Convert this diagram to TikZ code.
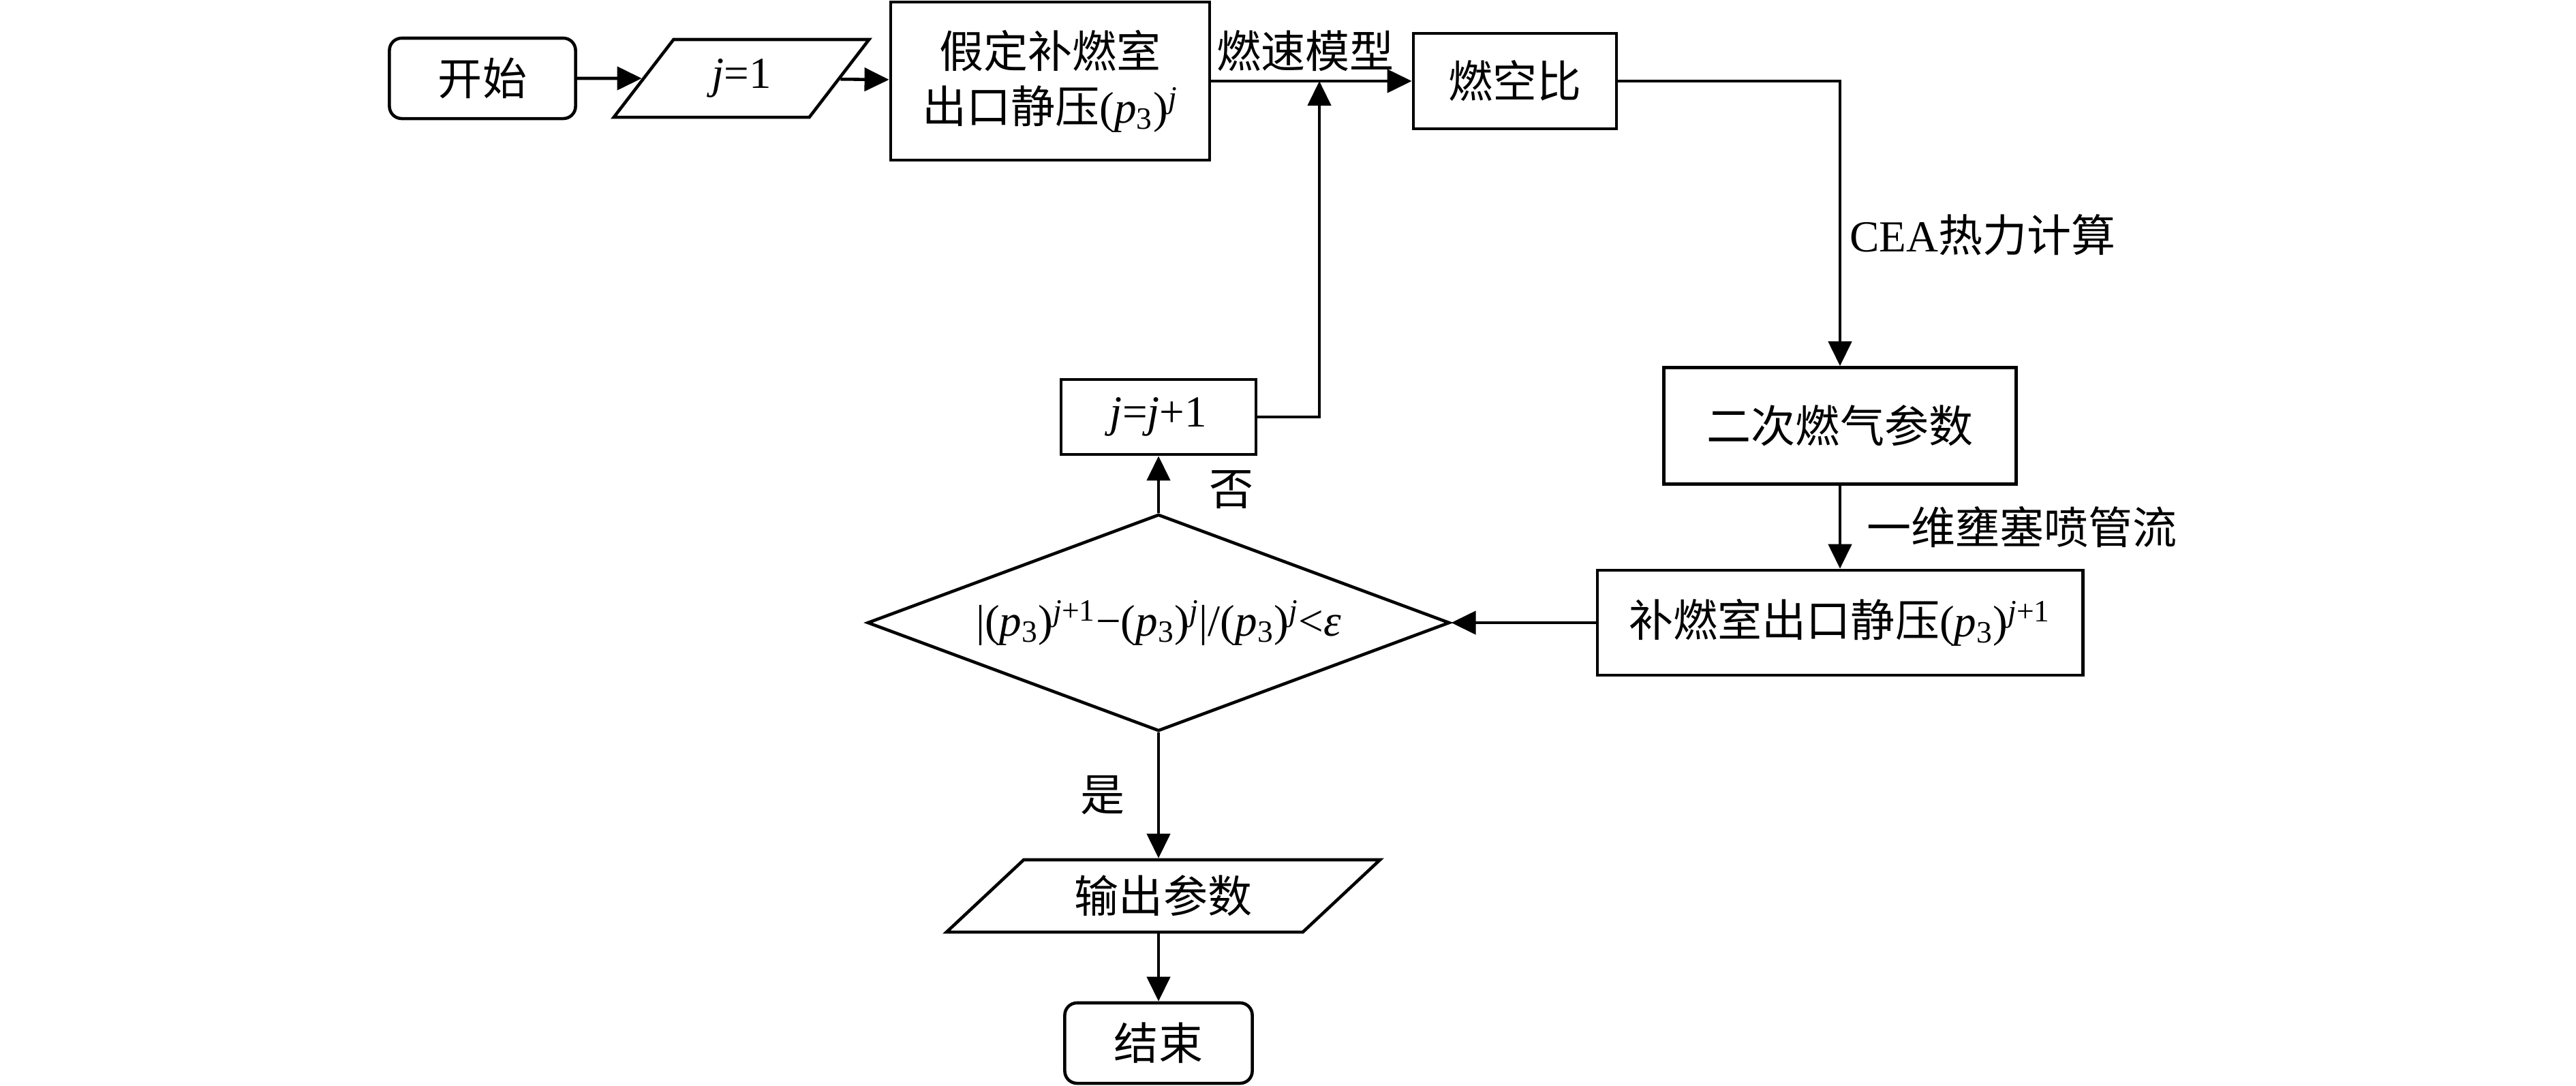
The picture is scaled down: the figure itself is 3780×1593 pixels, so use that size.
\documentclass[tikz,border=0pt]{standalone}
\usepackage{fontspec}
\setmainfont{Liberation Serif}
\newfontfamily\cjk{Noto Sans CJK SC}
\usetikzlibrary{arrows.meta,shapes.geometric}
\newcommand{\pexit}[1]{{\rmfamily(\textit{p}\textsubscript{3})\textsuperscript{#1}}}

\begin{document}
\begin{tikzpicture}[x=0.01cm, y=-0.01cm,
    every node/.style={align=center, font=\cjk\fontsize{18.5}{23}\selectfont},
    box/.style={draw, line width=1.3pt, inner sep=0pt},
    arr/.style={-{Triangle[length=0.36cm, width=0.34cm]}, line width=1.3pt}]
    \useasboundingbox (0,0) rectangle (3780,1593);

    % top row
    \node[box, rounded corners=0.18cm, minimum width=2.73cm, minimum height=1.18cm] (start) at (708,115) {开始};
    \node[box, trapezium, trapezium stretches=true, trapezium left angle=56, trapezium right angle=124, minimum width=3.75cm, minimum height=1.14cm] (init) at (1088,115) {{\rmfamily\textit{j}=1}};
    \node[box, minimum width=4.68cm, minimum height=2.32cm] (assume) at (1541,119) {假定补燃室\\出口静压\pexit{\textit{j}}};
    \node[box, minimum width=2.98cm, minimum height=1.40cm] (ratio) at (2223,119) {燃空比};

    % right column
    \node[box, minimum width=5.17cm, minimum height=1.71cm] (gas) at (2700,625) {二次燃气参数};
    \node[box, minimum width=7.12cm, minimum height=1.54cm] (press) at (2700,914) {补燃室出口静压\pexit{\textit{j}+1}};

    % middle column
    \node[box, diamond, aspect=2.686, minimum width=8.54cm, minimum height=3.18cm] (check) at (1700,914) {{\rmfamily|\pexit{\textit{j}+1}−\pexit{\textit{j}}|/\pexit{\textit{j}}<\textit{ε}}};
    \node[box, minimum width=2.86cm, minimum height=1.10cm] (incr) at (1700,612) {{\rmfamily\textit{j}=\textit{j}+1}};
    \node[box, trapezium, trapezium stretches=true, trapezium left angle=40, trapezium right angle=140, minimum width=6.36cm, minimum height=1.06cm] (output) at (1707,1315) {输出参数};
    \node[box, rounded corners=0.18cm, minimum width=2.75cm, minimum height=1.18cm] (stop) at (1700,1531) {结束};
    \coordinate (join) at (1936,119);

    \draw[arr] (start) -- (init);
    \draw[arr] (init) -- (assume);
    \draw[arr] (assume) -- node[above, pos=0.47] (lburn) {燃速模型} (ratio);
    \draw[arr] (ratio) -| node[right, pos=0.77] (lcea) {{\rmfamily CEA}热力计算} (gas);
    \draw[arr] (gas) -- node[right=0.25cm] (lnozzle) {一维壅塞喷管流} (press);
    \draw[arr] (press) -- (check);
    \draw[arr] (check) -- node[right=0.6cm, pos=0.41] (lno) {否} (incr);
    \draw[arr] (incr) -| (join);
    \draw[arr] (check) -- node[left=0.35cm] (lyes) {是} (check |- output.north);
    \draw[arr] (stop |- output.south) -- (stop);
\end{tikzpicture}
\end{document}
